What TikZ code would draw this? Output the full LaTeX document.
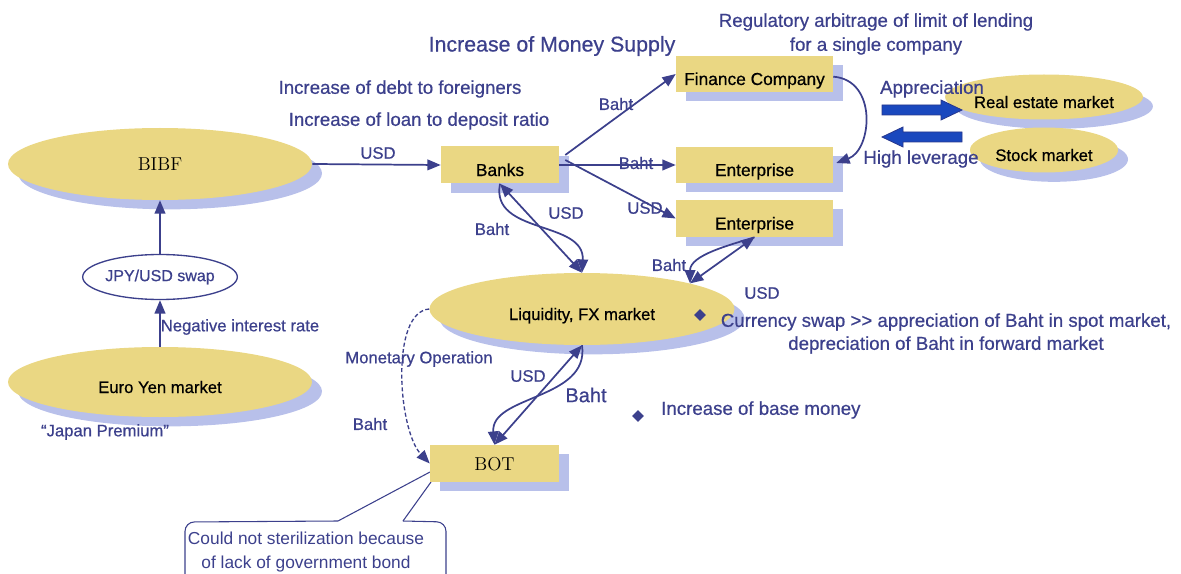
\documentclass[tikz,border=0pt]{standalone}
\usepackage{fontspec}
\newfontfamily\lab{Liberation Sans}[FakeBold=0.6]
\newfontfamily\labthin{Liberation Sans}
\usetikzlibrary{arrows.meta,shapes.geometric,shadows}
\definecolor{navy}{RGB}{60,64,140}
\definecolor{sand}{RGB}{234,215,131}
\definecolor{lav}{RGB}{184,192,234}
\definecolor{bigblue}{RGB}{26,72,190}
\definecolor{bigedge}{RGB}{40,55,140}
\begin{document}
\begin{tikzpicture}[x=0.75pt,y=-0.75pt,
  shad/.style={drop shadow={shadow xshift=7.5pt, shadow yshift=-7pt, fill=lav, opacity=1}},
  low/.style={text height=16.5pt, text depth=0pt},
  box/.style={rectangle, fill=sand, inner sep=0pt, font=\lab\fontsize{13}{15}\selectfont, text=black, shad, low},
  ell/.style={ellipse, fill=sand, inner sep=0pt, font=\lab\fontsize{12.5}{15}\selectfont, text=black, shad, low},
  lbl/.style={font=\lab\fontsize{14}{16}\selectfont, text=navy, inner sep=0pt},
  slbl/.style={font=\lab\fontsize{12.5}{14}\selectfont, text=navy, inner sep=0pt},
  conn/.style={draw=navy, line width=1.3pt, -{Triangle[length=10pt,width=8pt]}},
  dconn/.style={draw=navy, line width=1.3pt, {Triangle[length=10pt,width=8pt]}-{Triangle[length=10pt,width=8pt]}},
  bullet/.style={diamond, fill=navy, inner sep=0pt, minimum size=9pt},
]
\useasboundingbox (0,0) rectangle (1181,574);

% ellipses
\node[ell, minimum width=228pt, minimum height=54pt, font=\fontsize{14}{16}\selectfont, text height=10pt] (bibf) at (160,164) {BIBF};
\node[ell, minimum width=228pt, minimum height=52.5pt] (euro) at (160,382) {Euro Yen market};
\node[ellipse, draw=navy, line width=1pt, fill=white, inner sep=0pt, minimum width=110pt, minimum height=33.75pt, text=navy, font=\lab\fontsize{12}{14}\selectfont] (swap) at (160,277) {JPY/USD swap};
\node[ell, minimum width=228.75pt, minimum height=54pt] (liq) at (582,309) {Liquidity, FX market};
\node[ell, minimum width=111pt, minimum height=33.75pt] (real) at (1044,97) {Real estate market};
\node[ell, minimum width=111pt, minimum height=33.75pt] (stock) at (1044,150) {Stock market};

% callout
\draw[navy, line width=0.8pt, rounded corners=7pt] (338,521) -- (185,522) -- (185,600);
\draw[navy, line width=0.8pt] (338,521) -- (430,472);
\draw[navy, line width=0.8pt] (431,482) -- (403,521);
\draw[navy, line width=0.8pt, rounded corners=7pt] (403,521) -- (446,522) -- (446,600);
\node[font=\labthin\fontsize{13}{15}\selectfont, text=navy, align=center, inner sep=0pt] (note) at (306,552) {Could not sterilization because\\[3pt] of lack of government bond};

% boxes
\node[box, minimum width=88.5pt, minimum height=27.75pt] (banks) at (500,165) {Banks};
\node[box, minimum width=117.75pt, minimum height=27pt] (fin) at (754.5,74) {Finance Company};
\node[box, minimum width=117.75pt, minimum height=27pt] (ent1) at (754.5,165) {Enterprise};
\node[box, minimum width=117.75pt, minimum height=27.75pt] (ent2) at (754.5,218.5) {Enterprise};
\node[box, minimum width=96.75pt, minimum height=27.75pt, font=\fontsize{14}{16}\selectfont, text height=11pt] (bot) at (494.5,463.5) {BOT};

% big arrows
\draw[fill=bigblue, draw=bigedge, line width=0.6pt] (882,105) -- (941,105) -- (941,100) -- (962,110) -- (941,120) -- (941,115) -- (882,115) -- cycle;
\draw[fill=bigblue, draw=bigedge, line width=0.6pt] (962,132) -- (903,132) -- (903,127) -- (882,137) -- (903,147) -- (903,142) -- (962,142) -- cycle;

% connectors
\draw[conn] (euro.north) -- (swap.south);
\draw[conn] (swap.north) -- (bibf.south);
\draw[conn] (bibf.east) -- (banks.west);
\draw[conn] ([shift={(6,-10)}]banks.east) -- (fin.west);
\draw[conn] (banks.east) -- (ent1.west);
\draw[conn] ([shift={(6,-5)}]banks.east) -- (ent2.west);
\draw[conn] ([yshift=-2pt]fin.east) .. controls (878,80) and (872,150) .. ([shift={(3,-2)}]ent1.east);
\draw[dconn] (banks.south) -- (liq.north);
\draw[conn] (banks.south) .. controls (490,235) and (585,220) .. (liq.north);
\draw[dconn] (liq.north east) -- (ent2.south);
\draw[conn] (ent2.south) .. controls (730,245) and (690,255) .. (liq.north east);
\draw[dconn] (liq.south) -- (bot.north);
\draw[conn] (liq.south) .. controls (590,400) and (490,395) .. (bot.north);
\draw[conn, dash pattern=on 3pt off 1.8pt, line width=1pt] (liq.west) .. controls (390,312) and (398,430) .. (bot.west);

% labels
\node[lbl] (t1) at (876,22) {Regulatory arbitrage of limit of lending};
\node[lbl] (t2) at (876,46) {for a single company};
\node[lbl, font=\lab\fontsize{16}{18}\selectfont] (t3) at (552,46) {Increase of Money Supply};
\node[lbl] (t4) at (400,89) {Increase of debt to foreigners};
\node[lbl] (t5) at (419,121) {Increase of loan to deposit ratio};
\node[slbl] (l1) at (378,153) {USD};
\node[slbl] (l2) at (616,104) {Baht};
\node[slbl] (l3) at (636,163) {Baht};
\node[slbl] (l4) at (645,208) {USD};
\node[slbl] (l5) at (566,213) {USD};
\node[slbl] (l6) at (492,229) {Baht};
\node[slbl] (l7) at (669,265) {Baht};
\node[slbl] (l8) at (762,293) {USD};
\node[lbl] (l9) at (932,89) {Appreciation};
\node[lbl] (l10) at (921,159) {High leverage};
\node[bullet] (b1) at (700,315) {};
\node[lbl] (c1) at (946,322) {Currency swap >> appreciation of Baht in spot market,};
\node[lbl] (c2) at (946,345) {depreciation of Baht in forward market};
\node[bullet] (b2) at (638,416) {};
\node[lbl, anchor=west] (c3) at (661,410) {Increase of base money};
\node[slbl] (m1) at (419,359) {Monetary Operation};
\node[slbl] (m2) at (528,376) {USD};
\node[lbl, font=\lab\fontsize{15}{17}\selectfont] (m3) at (586,395) {Baht};
\node[slbl] (m4) at (370,424) {Baht};
\node[slbl] (n1) at (240,327) {Negative interest rate};
\node[slbl] (n2) at (105,432) {“Japan Premium”};
\end{tikzpicture}
\end{document}
